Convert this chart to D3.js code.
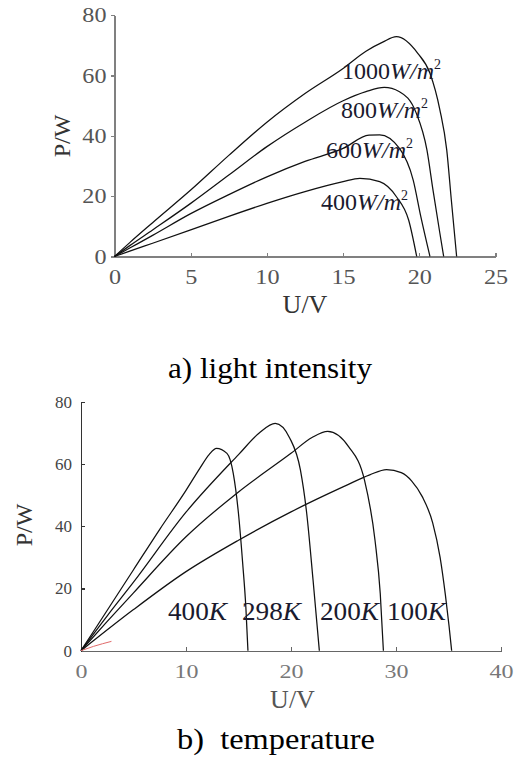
<!DOCTYPE html>
<html>
<head>
	<meta charset="utf-8">
	<script src="https://cdnjs.cloudflare.com/ajax/libs/d3/7.8.5/d3.min.js"></script>
	<style>
		body { margin: 0; background: #fff; }
		svg { display: block; font-family: "Liberation Serif", "Times New Roman", serif; }
		.axis path, .axis line { shape-rendering: crispEdges; }
		.curve { fill: none; stroke: #111; stroke-width: 1.25; }
	</style>
</head>
<body>
	<svg width="517" height="758"></svg>
	<script>
	// ---- chart a) light intensity : P (W) against U (V) ----
	var uTicksA = [0, 5, 10, 15, 20, 25];
	var pTicks = [0, 20, 40, 60, 80];

	var u1000 = [0, 1, 2.5, 5, 7.5, 10, 12.5, 15, 16.5, 17.6, 18.5, 19.9, 20.7, 21.35, 21.8, 22.1, 22.45];
	var p1000 = [0, 4.6, 11.2, 22, 33.5, 44.5, 54, 62.3, 68, 71, 72.8, 67.3, 60.7, 48.6, 35.3, 18.8, 0];
	var u800 = [0, 1, 2.5, 5, 7.5, 10, 12.5, 15, 16.5, 17.7, 18.7, 19.8, 20.5, 20.9, 21.35, 21.6];
	var p800 = [0, 3.6, 8.8, 17.6, 27, 36.4, 44.5, 51.6, 54.6, 56, 54.6, 47.5, 35.3, 22, 7.7, 0];
	var u600 = [0, 1, 2.5, 5, 7.5, 10, 12.5, 15, 16.7, 17.4, 18.7, 19.6, 20.1, 20.7];
	var p600 = [0, 2.8, 7, 14.2, 20.5, 26.4, 31.5, 35.8, 40.2, 40.3, 35.8, 25.3, 13.2, 0];
	var u400 = [0, 1, 2.5, 5, 7.5, 10, 12.5, 15, 16.1, 17.4, 18.5, 19.3, 19.83];
	var p400 = [0, 1.8, 4.4, 8.8, 13.3, 17.6, 21.5, 24.8, 25.9, 24.8, 19.8, 12.1, 0];
	var irrLabels = ["1000", "800", "600", "400"];

	// ---- chart b) temperature ----
	var uTicksB = [0, 10, 20, 30, 40];
	var u400K = [0, 2.5, 5, 7.5, 10, 11.3, 12.2, 12.9, 13.9, 14.5, 15, 15.4, 15.7, 15.9];
	var p400K = [0, 13, 26, 39, 51.5, 58.5, 63, 65, 63.4, 57, 44, 28, 14, 0];
	var u298K = [0, 2.5, 5, 10, 15, 17, 18.5, 19.9, 20.9, 21.5, 22.1, 22.7];
	var p298K = [0, 11.2, 22, 44.5, 63, 70, 73, 68.2, 58, 44, 22.7, 0];
	var u200K = [0, 2.5, 5, 10, 15, 20, 22, 23.5, 25.5, 27, 28, 28.5, 28.8];
	var p200K = [0, 9.4, 18.6, 36.6, 51, 63.4, 68.5, 70.5, 65.5, 54.8, 35.5, 18.4, 0];
	var u100K = [0, 5, 10, 15, 20, 25, 27.5, 29.1, 30.5, 31.5, 32.5, 33.5, 34.2, 34.7, 35.05, 35.3];
	var p100K = [0, 13.2, 25.4, 35.5, 44.6, 52.7, 56.5, 58.2, 57.2, 54.5, 49.5, 41, 30, 18, 8, 0];
	var tempLabels = ["400", "298", "200", "100"];
	// small red stroke near the origin of chart b
	var uRed = [0, 1.2, 2.9];
	var pRed = [0, 1.4, 3];

	var svg = d3.select("svg");

	function zip(us, ps) {
		return us.map(function(u, i) { return {u: u, p: ps[i]}; });
	}

	function drawCurves(g, x, y, series, cls, colour) {
		var line = d3.line()
			.x(function(d) { return x(d.u); })
			.y(function(d) { return y(d.p); })
			.curve(d3.curveMonotoneX);
		g.selectAll("path." + cls)
			.data(series)
			.enter()
			.append("path")
			.attr("class", "curve " + cls)
			.attr("d", line)
			.style("stroke", colour || null);
	}

	// ======== chart a ========
	var xA = d3.scaleLinear().domain([0, 25]).range([114.5, 495.5]);
	var yA = d3.scaleLinear().domain([0, 80]).range([256.5, 15]);
	var gA = svg.append("g");

	var yAxisA = gA.append("g")
		.attr("class", "axis")
		.attr("transform", "translate(" + xA(0) + ",0)")
		.call(d3.axisLeft(yA).tickValues(pTicks).tickSizeInner(4).tickSizeOuter(0).tickPadding(3));
	var xAxisA = gA.append("g")
		.attr("class", "axis")
		.attr("transform", "translate(0," + yA(0) + ")")
		.call(d3.axisBottom(xA).tickValues(uTicksA).tickSizeInner(-4).tickSizeOuter(0).tickPadding(12));
	gA.selectAll(".axis path, .axis line").attr("stroke", "#808080").attr("stroke-width", 1.3);
	yAxisA.selectAll("text").attr("font-size", 21).attr("fill", "#555").attr("font-family", "Liberation Serif")
		.attr("transform", "scale(1.15,1)");
	xAxisA.selectAll("text").attr("font-size", 22).attr("fill", "#555").attr("font-family", "Liberation Serif")
		.attr("transform", "scale(1.1,1)");
	xAxisA.selectAll(".tick").filter(function(d) { return d === 0; }).select("line").remove();

	drawCurves(gA, xA, yA, [zip(u1000, p1000), zip(u800, p800), zip(u600, p600), zip(u400, p400)], "irr");

	var irrPos = [[342, 79], [341, 118], [326, 158], [321, 210]];
	irrLabels.forEach(function(lab, i) {
		var t = gA.append("text")
			.attr("x", irrPos[i][0]).attr("y", irrPos[i][1])
			.attr("font-size", 24).attr("fill", "#1a1a2e");
		t.append("tspan").text(lab);
		t.append("tspan").attr("font-style", "italic").text("W/m");
		t.append("tspan").attr("font-size", 14).attr("dy", -10).text("2");
	});

	gA.append("text")
		.attr("transform", "translate(70,136) rotate(-90)")
		.attr("text-anchor", "middle")
		.attr("font-size", 24).attr("fill", "#333")
		.text("P/W");
	gA.append("text")
		.attr("x", 305).attr("y", 313)
		.attr("text-anchor", "middle")
		.attr("font-size", 26).attr("fill", "#333")
		.text("U/V");
	gA.append("text")
		.attr("x", 270).attr("y", 378)
		.attr("text-anchor", "middle")
		.attr("font-size", 30).attr("fill", "#000")
		.attr("textLength", 204).attr("lengthAdjust", "spacingAndGlyphs")
		.text("a) light intensity");

	// ======== chart b ========
	var xB = d3.scaleLinear().domain([0, 40]).range([81, 501]);
	var yB = d3.scaleLinear().domain([0, 80]).range([650.7, 401.7]);
	var gB = svg.append("g");

	var yAxisB = gB.append("g")
		.attr("class", "axis")
		.attr("transform", "translate(" + xB(0) + ",0)")
		.call(d3.axisLeft(yB).tickValues(pTicks).tickSizeInner(-4).tickSizeOuter(0).tickPadding(9));
	var xAxisB = gB.append("g")
		.attr("class", "axis")
		.attr("transform", "translate(0," + yB(0) + ")")
		.call(d3.axisBottom(xB).tickValues(uTicksB).tickSizeInner(-4).tickSizeOuter(0).tickPadding(14));
	yAxisB.selectAll("path, line").attr("stroke", "#333").attr("stroke-width", 1.4);
	xAxisB.selectAll("path, line").attr("stroke", "#666").attr("stroke-width", 1.3);
	yAxisB.selectAll("text").attr("font-size", 17).attr("fill", "#444").attr("font-family", "Liberation Serif");
	xAxisB.selectAll("text").attr("font-size", 18.5).attr("fill", "#777").attr("font-family", "Liberation Serif")
		.attr("transform", "scale(1.3,1)");
	xAxisB.selectAll(".tick").filter(function(d) { return d === 0; }).select("line").remove();

	drawCurves(gB, xB, yB, [zip(u400K, p400K), zip(u298K, p298K), zip(u200K, p200K), zip(u100K, p100K)], "temp");
	drawCurves(gB, xB, yB, [zip(uRed, pRed)], "red", "#e06a6a");
	gB.select("path.red").style("stroke-width", 1);

	var tempX = [168, 242, 320, 387];
	tempLabels.forEach(function(lab, i) {
		var t = gB.append("text")
			.attr("x", tempX[i]).attr("y", 620)
			.attr("font-size", 25).attr("fill", "#1a1a2e")
			.attr("textLength", 59).attr("lengthAdjust", "spacingAndGlyphs");
		t.append("tspan").text(lab);
		t.append("tspan").attr("font-style", "italic").text("K");
	});

	gB.append("text")
		.attr("transform", "translate(32,525) rotate(-90)")
		.attr("text-anchor", "middle")
		.attr("font-size", 24).attr("fill", "#333")
		.text("P/W");
	gB.append("text")
		.attr("x", 292.5).attr("y", 708)
		.attr("text-anchor", "middle")
		.attr("font-size", 26).attr("fill", "#555")
		.text("U/V");
	gB.append("text")
		.attr("x", 276).attr("y", 749)
		.attr("text-anchor", "middle")
		.attr("font-size", 30).attr("fill", "#000")
		.attr("textLength", 198).attr("lengthAdjust", "spacingAndGlyphs")
		.style("white-space", "pre")
		.text("b)  temperature");
	</script>
</body>
</html>
